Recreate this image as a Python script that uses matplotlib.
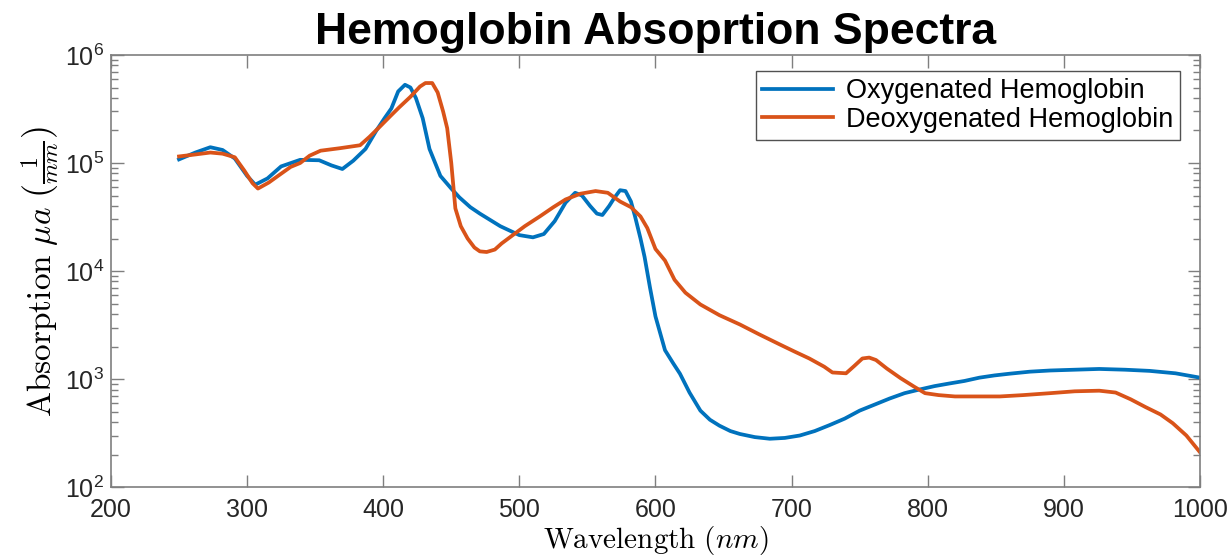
import numpy as np
import matplotlib
matplotlib.use('Agg')
import matplotlib.pyplot as plt
from matplotlib.ticker import LogLocator, FixedLocator, NullFormatter

plt.rcParams['font.family'] = ['Liberation Sans', 'DejaVu Sans']
plt.rcParams['mathtext.fontset'] = 'custom'
plt.rcParams['mathtext.rm'] = 'Liberation Sans'
plt.rcParams['mathtext.it'] = 'Liberation Sans:italic'

# oxygenated hemoglobin, wavelength (nm) vs absorption (1/mm)
wl_oxy = [250, 262, 273, 282, 291, 300, 306, 315, 325, 339, 353, 362, 370, 378,
          387, 395, 401, 406, 411, 416, 420, 424, 429, 434, 442, 450, 456, 464,
          471, 486, 500, 510, 518, 526, 534, 541, 546, 552, 557, 561, 566, 570,
          574, 578, 582, 585, 589, 592, 596, 600, 607, 613, 618, 625, 633, 640,
          647, 655, 662, 673, 684, 695, 706, 717, 728, 739, 750, 761, 772, 783,
          794, 805, 816, 827, 838, 849, 860, 875, 890, 908, 926, 945, 963, 982,
          1000]
abs_oxy = [1.08e5, 1.25e5, 1.40e5, 1.32e5, 1.10e5, 7.6e4, 6.3e4, 7.2e4, 9.3e4,
           1.07e5, 1.06e5, 9.5e4, 8.8e4, 1.05e5, 1.35e5, 2.0e5, 2.6e5, 3.2e5,
           4.6e5, 5.3e5, 5.0e5, 4.0e5, 2.6e5, 1.35e5, 7.6e4, 5.8e4, 4.8e4,
           3.9e4, 3.4e4, 2.6e4, 2.15e4, 2.05e4, 2.2e4, 2.9e4, 4.3e4, 5.3e4,
           5.0e4, 4.0e4, 3.4e4, 3.3e4, 4.0e4, 4.8e4, 5.6e4, 5.5e4, 4.4e4,
           3.2e4, 2.0e4, 1.35e4, 7.0e3, 3.8e3, 1.85e3, 1.40e3, 1.12e3, 7.5e2,
           5.1e2, 4.2e2, 3.7e2, 3.3e2, 3.1e2, 2.9e2, 2.8e2, 2.85e2, 3.0e2,
           3.3e2, 3.75e2, 4.3e2, 5.1e2, 5.8e2, 6.6e2, 7.4e2, 8.0e2, 8.6e2,
           9.1e2, 9.6e2, 1.03e3, 1.08e3, 1.12e3, 1.17e3, 1.20e3, 1.22e3,
           1.24e3, 1.22e3, 1.19e3, 1.13e3, 1.03e3]

# deoxygenated hemoglobin
wl_deoxy = [250, 262, 273, 282, 291, 298, 304, 308, 316, 324, 332, 339, 346, 354,
            368, 383, 390, 398, 405, 412, 420, 427, 431, 436, 440, 444, 447, 450,
            453, 457, 462, 467, 471, 476, 482, 487, 493, 504, 515, 525, 534, 545,
            556, 565, 574, 582, 589, 594, 600, 607, 614, 622, 633, 647, 662, 676,
            691, 702, 713, 724, 730, 740, 746, 752, 757, 762, 770, 780, 790, 798,
            808, 820, 835, 853, 870, 890, 908, 926, 938, 949, 960, 971, 980, 990,
            1000]
abs_deoxy = [1.15e5, 1.20e5, 1.25e5, 1.22e5, 1.13e5, 8.5e4, 6.5e4, 5.8e4, 6.6e4,
             7.8e4, 9.2e4, 1.0e5, 1.17e5, 1.30e5, 1.37e5, 1.46e5, 1.75e5, 2.2e5,
             2.7e5, 3.3e5, 4.1e5, 5.1e5, 5.5e5, 5.5e5, 4.5e5, 3.0e5, 2.1e5,
             1.0e5, 3.8e4, 2.6e4, 2.0e4, 1.65e4, 1.52e4, 1.50e4, 1.58e4, 1.8e4,
             2.05e4, 2.6e4, 3.2e4, 3.9e4, 4.6e4, 5.2e4, 5.5e4, 5.3e4, 4.4e4,
             3.9e4, 3.2e4, 2.5e4, 1.6e4, 1.25e4, 8.3e3, 6.3e3, 4.9e3, 3.9e3,
             3.2e3, 2.6e3, 2.1e3, 1.8e3, 1.55e3, 1.30e3, 1.15e3, 1.13e3,
             1.32e3, 1.55e3, 1.58e3, 1.50e3, 1.25e3, 1.02e3, 8.5e2, 7.4e2,
             7.1e2, 6.9e2, 6.9e2, 6.9e2, 7.1e2, 7.4e2, 7.7e2, 7.8e2, 7.5e2,
             6.5e2, 5.5e2, 4.7e2, 3.9e2, 3.0e2, 2.1e2]

blue = '#0072BD'
orange = '#D95319'

fig = plt.figure(figsize=(12.3, 5.56), dpi=100)
ax = fig.add_axes([0.0902, 0.124, 0.8854, 0.7771])

ax.plot(wl_oxy, abs_oxy, color=blue, lw=2.7, label='Oxygenated Hemoglobin',
        solid_joinstyle='round')
ax.plot(wl_deoxy, abs_deoxy, color=orange, lw=2.7, label='Deoxygenated Hemoglobin',
        solid_joinstyle='round')

ax.set_yscale('log')
ax.set_xlim(200, 1000)
ax.set_ylim(1e2, 1e6)
ax.xaxis.set_major_locator(FixedLocator(np.arange(200, 1001, 100)))
ax.yaxis.set_major_locator(FixedLocator([1e2, 1e3, 1e4, 1e5, 1e6]))
ax.yaxis.set_minor_locator(LogLocator(base=10, subs=np.arange(2, 10)))
ax.yaxis.set_minor_formatter(NullFormatter())
ax.set_yticklabels([r'$10^{%d}$' % k for k in range(2, 7)])

for s in ax.spines.values():
    s.set_color('#7f7f7f')
    s.set_linewidth(1.2)
ax.tick_params(which='both', direction='in', top=True, right=True,
               colors='#7f7f7f', labelcolor='#262626', labelsize=18)
ax.tick_params(which='major', length=9, width=1)
ax.tick_params(which='minor', length=5, width=1)
ax.tick_params(axis='x', pad=8)
ax.tick_params(axis='y', pad=5)

ax.set_xlabel(r'$\mathrm{Wavelength}\ (nm)$', fontsize=21, math_fontfamily='cm',
              labelpad=1)
ax.set_ylabel(r'$\mathrm{Absorption}\ \mu a\ \left(\frac{1}{mm}\right)$',
              fontsize=24, math_fontfamily='cm', labelpad=2)
ax.set_title('Hemoglobin Absoprtion Spectra', fontsize=32, fontweight='bold', pad=8)

leg = ax.legend(loc='upper right', bbox_to_anchor=(0.982, 0.962), fontsize=19.5,
                frameon=True, fancybox=False, handlelength=2.6,
                borderpad=0.25, labelspacing=0.1, handletextpad=0.5,
                borderaxespad=0)
leg.get_frame().set_edgecolor('#262626')
leg.get_frame().set_linewidth(1.0)

fig.savefig('out.png', dpi=100)
